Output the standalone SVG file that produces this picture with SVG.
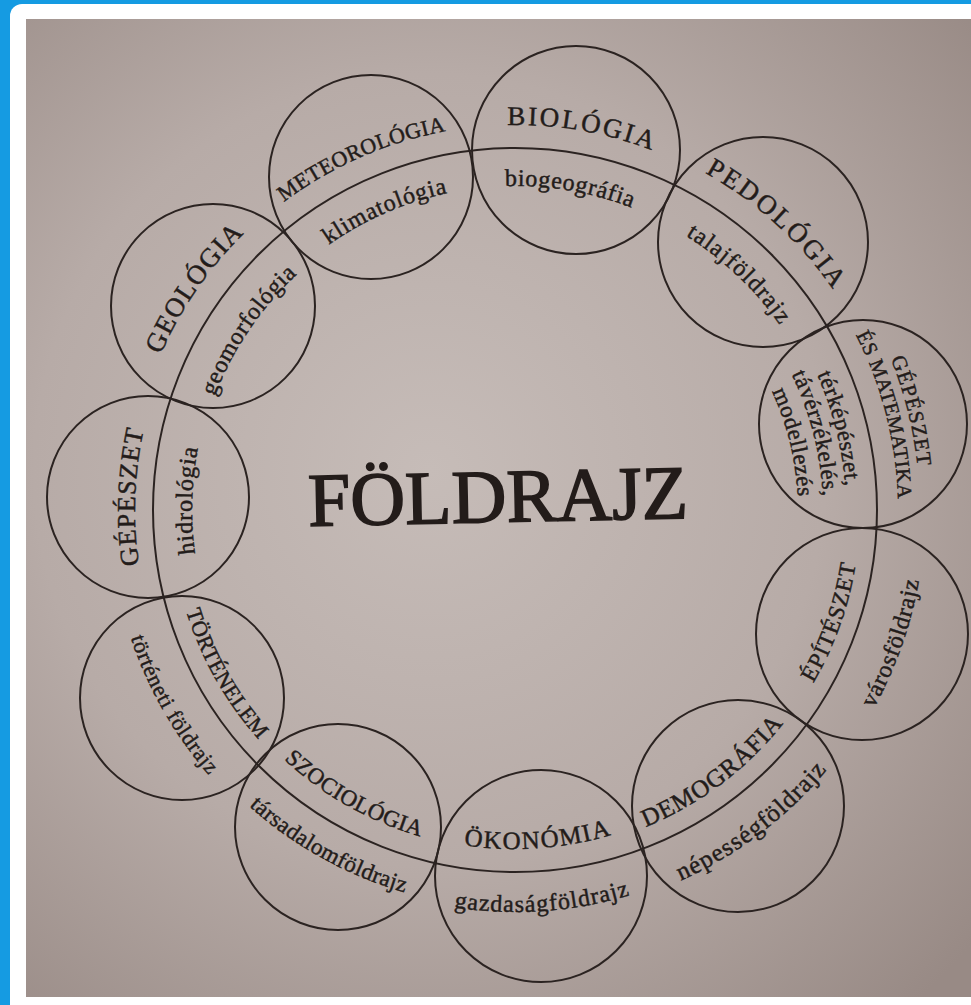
<svg xmlns="http://www.w3.org/2000/svg" width="971" height="1005" viewBox="0 0 971 1005">
<style>
.c{fill:none;stroke:#2b2321;stroke-width:2}
.t{font-family:"Liberation Serif","Times New Roman",serif;fill:#231c1a;stroke:#231c1a;stroke-width:0.45px}
</style>
<defs>
<radialGradient id="pg" cx="430" cy="470" r="720" gradientUnits="userSpaceOnUse">
<stop offset="0" stop-color="#c6bcb8"/>
<stop offset="0.55" stop-color="#b7aba7"/>
<stop offset="1" stop-color="#988a85"/>
</radialGradient>
<path id="p1" d="M205.1,281.5 A385,385 0 0 1 557.9,127.4"/>
<path id="p2" d="M254.5,317.3 A324,324 0 0 1 551.7,188.1"/>
<path id="p3" d="M383.3,148.2 A385,385 0 0 1 762.5,215.1"/>
<path id="p4" d="M402.6,206.1 A324,324 0 0 1 722.0,260.7"/>
<path id="p5" d="M598.7,132.2 A387,387 0 0 1 884.1,393.6"/>
<path id="p6" d="M590.9,196.0 A323,323 0 0 1 824.9,418.8"/>
<path id="p7" d="M806.3,228.6 A405,405 0 0 1 904.3,621.6"/>
<path id="p8" d="M788.7,242.0 A383,383 0 0 1 883.9,613.0"/>
<path id="p9" d="M752.7,279.7 A331,331 0 0 1 833.3,600.7"/>
<path id="p10" d="M735.4,294.9 A308,308 0 0 1 811.5,593.3"/>
<path id="p11" d="M719.6,314.5 A283,283 0 0 1 786.6,589.4"/>
<path id="p12" d="M739.0,772.3 A345,345 0 0 0 854.2,447.1"/>
<path id="p13" d="M781.8,821.3 A410,410 0 0 0 918.0,434.6"/>
<path id="p14" d="M556.8,850.4 A343,343 0 0 0 830.7,644.0"/>
<path id="p15" d="M565.9,912.8 A406,406 0 0 0 889.3,667.3"/>
<path id="p16" d="M366.4,814.7 A339,339 0 0 0 704.6,791.0"/>
<path id="p17" d="M338.8,871.3 A402,402 0 0 0 739.8,843.3"/>
<path id="p18" d="M222.1,682.6 A340,340 0 0 0 518.0,850.0"/>
<path id="p19" d="M173.8,715.0 A398,398 0 0 0 521.9,907.9"/>
<path id="p20" d="M171.0,507.0 A344,344 0 0 0 340.4,806.4"/>
<path id="p21" d="M110.0,507.9 A405,405 0 0 0 310.7,859.7"/>
<path id="p22" d="M179.5,688.4 A380,380 0 0 1 192.8,308.6"/>
<path id="p23" d="M230.6,663.1 A323,323 0 0 1 240.2,340.3"/>
<path id="p24" d="M129.3,478.3 A387,387 0 0 1 349.6,160.1"/>
<path id="p25" d="M194.8,487.6 A321,321 0 0 1 374.3,221.5"/>
</defs>

<rect x="0" y="0" width="971" height="1005" fill="#159be2"/>
<rect x="10" y="4" width="980" height="1020" rx="12" fill="#ffffff"/>
<rect x="26" y="19" width="945" height="978" fill="url(#pg)"/>

<g id="connectors">
<circle class="c" cx="515" cy="510" r="362"/>
</g>

<g id="meteorologia">
<circle class="c" cx="371" cy="177" r="102"/>
<text class="t" font-size="22" letter-spacing="0.3"><textPath href="#p1" startOffset="50%" text-anchor="middle">METEOROLÓGIA</textPath></text>
<text class="t" font-size="24" letter-spacing="0.8"><textPath href="#p2" startOffset="50%" text-anchor="middle">klimatológia</textPath></text>
</g>

<g id="biologia">
<circle class="c" cx="576" cy="150" r="104"/>
<text class="t" font-size="27" letter-spacing="2.4"><textPath href="#p3" startOffset="50%" text-anchor="middle">BIOLÓGIA</textPath></text>
<text class="t" font-size="24" letter-spacing="0.7"><textPath href="#p4" startOffset="50%" text-anchor="middle">biogeográfia</textPath></text>
</g>

<g id="pedologia">
<circle class="c" cx="763" cy="242" r="105"/>
<text class="t" font-size="27" letter-spacing="2.5"><textPath href="#p5" startOffset="50%" text-anchor="middle">PEDOLÓGIA</textPath></text>
<text class="t" font-size="24" letter-spacing="1.2"><textPath href="#p6" startOffset="50%" text-anchor="middle">talajföldrajz</textPath></text>
</g>

<g id="gepeszet-es-matematika">
<circle class="c" cx="863" cy="424" r="104"/>
<text class="t" font-size="21" letter-spacing="1.2"><textPath href="#p7" startOffset="50%" text-anchor="middle">GÉPÉSZET</textPath></text>
<text class="t" font-size="20.5" letter-spacing="0.5"><textPath href="#p8" startOffset="50%" text-anchor="middle">ÉS MATEMATIKA</textPath></text>
<text class="t" font-size="23" letter-spacing="0.6"><textPath href="#p9" startOffset="50%" text-anchor="middle">térképészet,</textPath></text>
<text class="t" font-size="23" letter-spacing="0.6"><textPath href="#p10" startOffset="50%" text-anchor="middle">távérzékelés,</textPath></text>
<text class="t" font-size="23" letter-spacing="0.6"><textPath href="#p11" startOffset="50%" text-anchor="middle">modellezés</textPath></text>
</g>

<g id="epiteszet">
<circle class="c" cx="862" cy="634" r="106"/>
<text class="t" font-size="23" letter-spacing="1.2"><textPath href="#p12" startOffset="50%" text-anchor="middle">ÉPÍTÉSZET</textPath></text>
<text class="t" font-size="24" letter-spacing="0.8"><textPath href="#p13" startOffset="50%" text-anchor="middle">városföldrajz</textPath></text>
</g>

<g id="demografia">
<circle class="c" cx="738" cy="806" r="106"/>
<text class="t" font-size="25" letter-spacing="0.8"><textPath href="#p14" startOffset="50%" text-anchor="middle">DEMOGRÁFIA</textPath></text>
<text class="t" font-size="25" letter-spacing="1.1"><textPath href="#p15" startOffset="50%" text-anchor="middle">népességföldrajz</textPath></text>
</g>

<g id="okonomia">
<circle class="c" cx="541" cy="876" r="106"/>
<text class="t" font-size="25" letter-spacing="1.4"><textPath href="#p16" startOffset="50%" text-anchor="middle">ÖKONÓMIA</textPath></text>
<text class="t" font-size="24" letter-spacing="1"><textPath href="#p17" startOffset="50%" text-anchor="middle">gazdaságföldrajz</textPath></text>
</g>

<g id="szociologia">
<circle class="c" cx="338" cy="827" r="103"/>
<text class="t" font-size="23" letter-spacing="0.3"><textPath href="#p18" startOffset="50%" text-anchor="middle">SZOCIOLÓGIA</textPath></text>
<text class="t" font-size="23" letter-spacing="0.4"><textPath href="#p19" startOffset="50%" text-anchor="middle">társadalomföldrajz</textPath></text>
</g>

<g id="tortenelem">
<circle class="c" cx="182" cy="698" r="102"/>
<text class="t" font-size="22" letter-spacing="0.4"><textPath href="#p20" startOffset="50%" text-anchor="middle">TÖRTÉNELEM</textPath></text>
<text class="t" font-size="22" letter-spacing="0.7"><textPath href="#p21" startOffset="50%" text-anchor="middle">történeti földrajz</textPath></text>
</g>

<g id="gepeszet">
<circle class="c" cx="148" cy="497" r="101"/>
<text class="t" font-size="26" letter-spacing="1.2"><textPath href="#p22" startOffset="50%" text-anchor="middle">GÉPÉSZET</textPath></text>
<text class="t" font-size="24" letter-spacing="0.8"><textPath href="#p23" startOffset="50%" text-anchor="middle">hidrológia</textPath></text>
</g>

<g id="geologia">
<circle class="c" cx="213" cy="306" r="102"/>
<text class="t" font-size="27" letter-spacing="1.2"><textPath href="#p24" startOffset="50%" text-anchor="middle">GEOLÓGIA</textPath></text>
<text class="t" font-size="24" letter-spacing="0.6"><textPath href="#p25" startOffset="50%" text-anchor="middle">geomorfológia</textPath></text>
</g>

<g id="foldrajz">
<text class="t" x="498" y="522" font-size="76" text-anchor="middle" style="stroke-width:1.6px" transform="rotate(-1.2 498 500)">FÖLDRAJZ</text>
</g>
</svg>
